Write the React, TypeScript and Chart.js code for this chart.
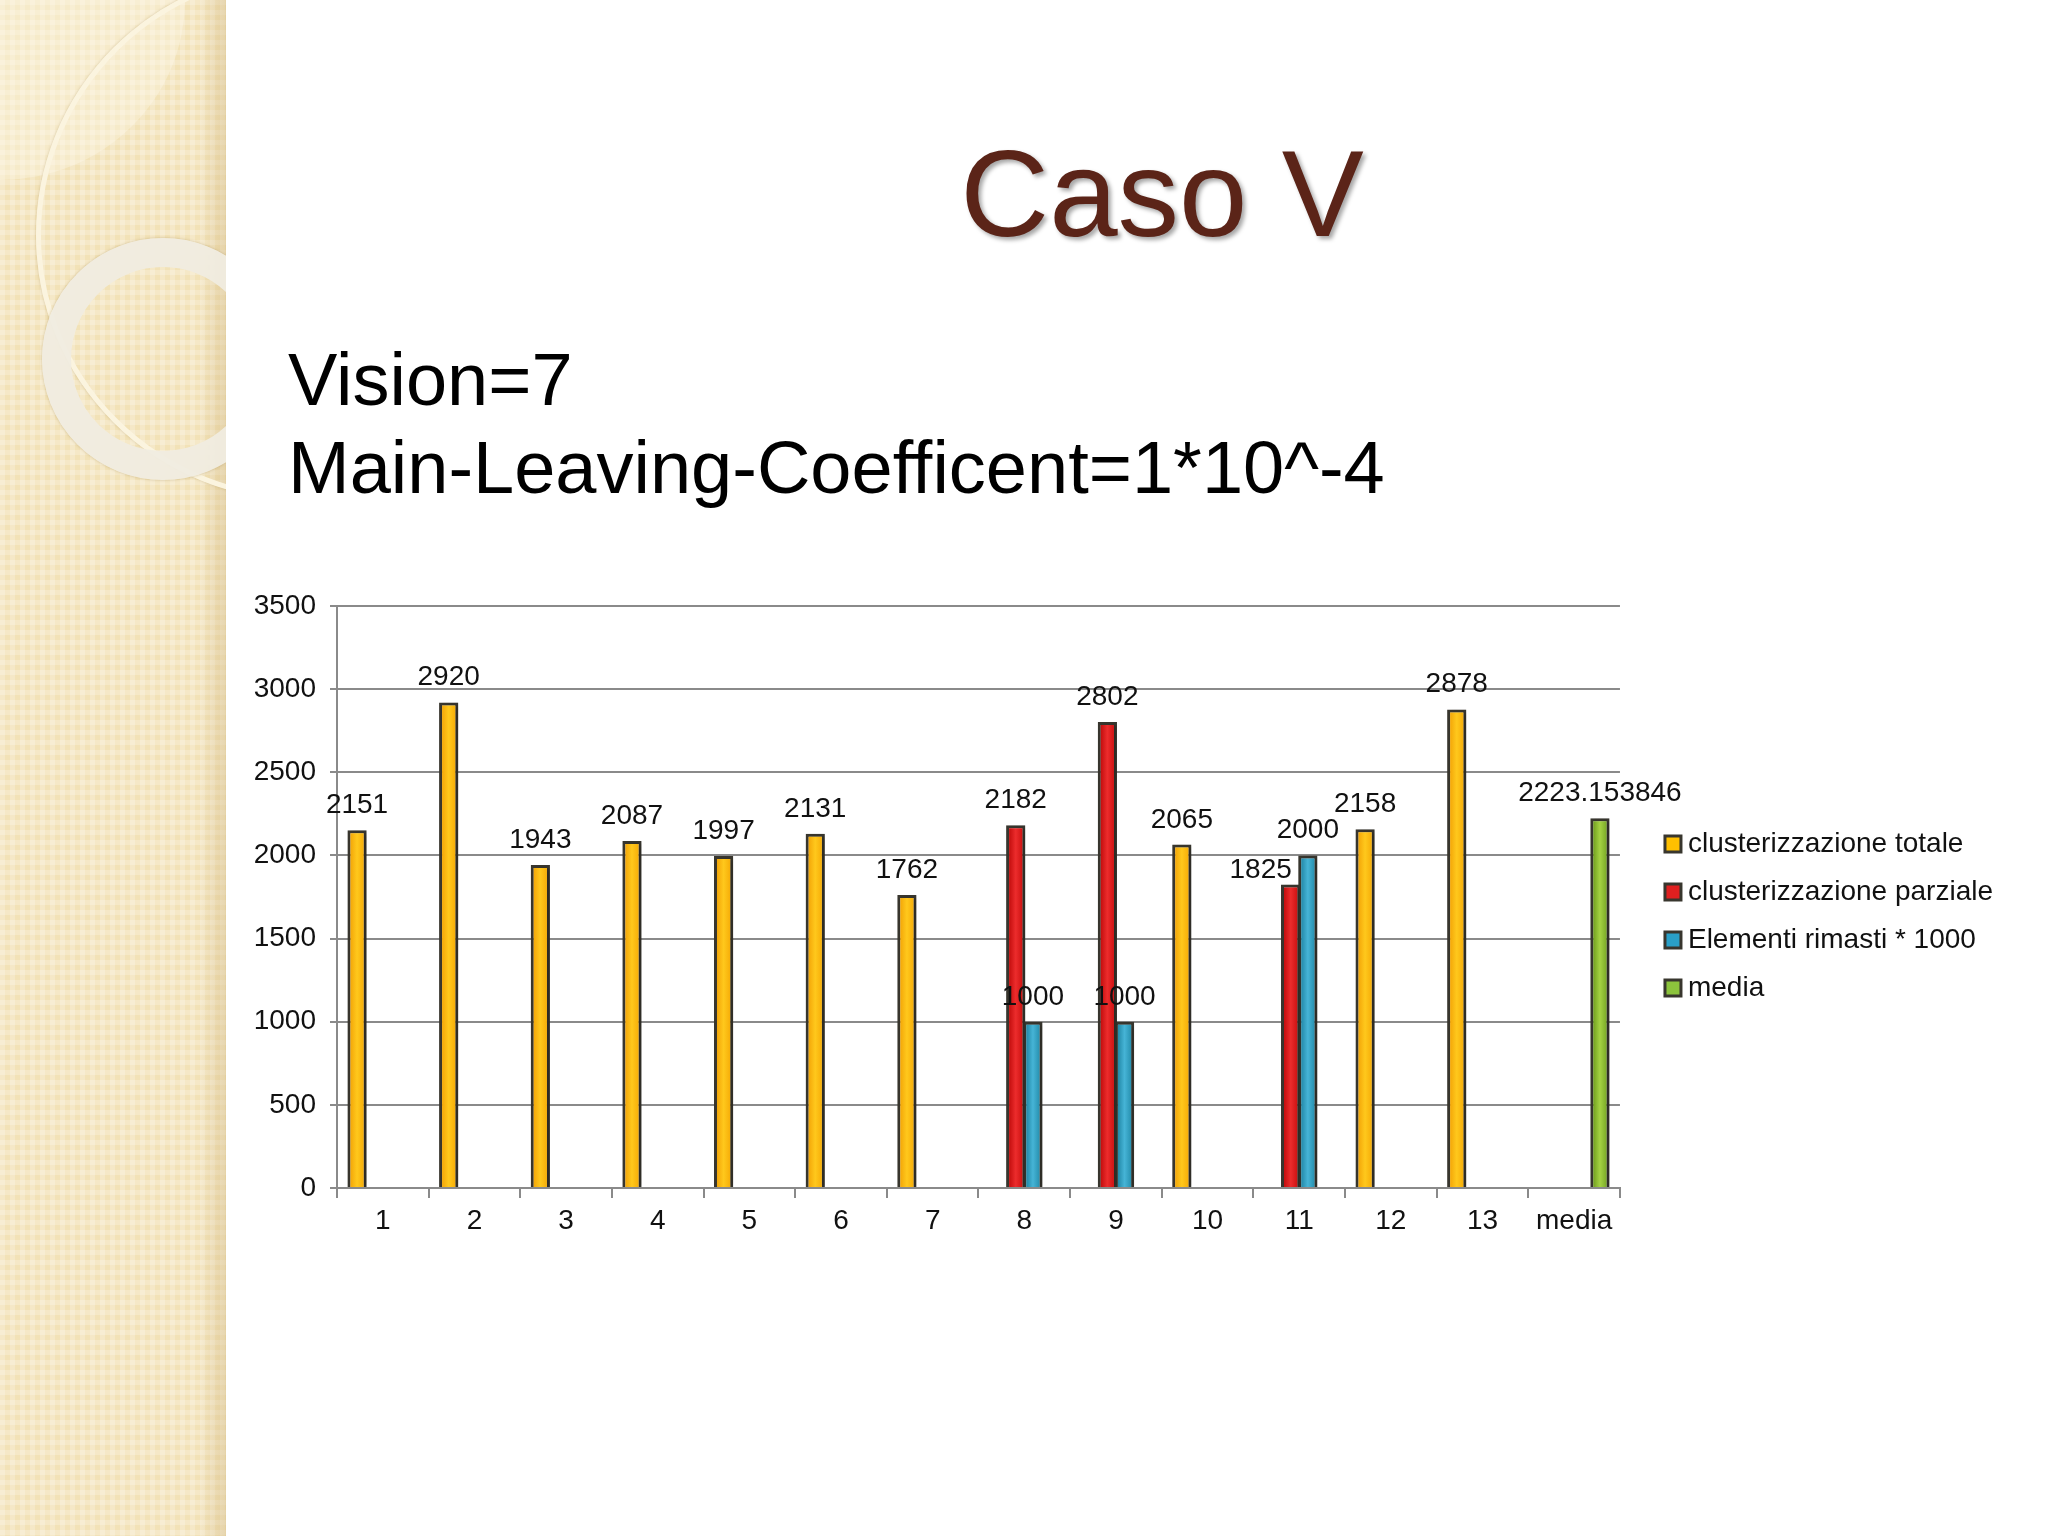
import { useEffect, useRef } from 'react'
import { Chart, registerables } from 'chart.js'

Chart.register(...registerables)

const FONT = '"Liberation Sans", Arial, sans-serif'

const categories = ['1', '2', '3', '4', '5', '6', '7', '8', '9', '10', '11', '12', '13', 'media']
const seriesNames = ['clusterizzazione totale', 'clusterizzazione parziale', 'Elementi rimasti * 1000', 'media']

const totale = [2151, 2920, 1943, 2087, 1997, 2131, 1762, null, null, 2065, null, 2158, 2878, null]
const parziale = [null, null, null, null, null, null, null, 2182, 2802, null, 1825, null, null, null]
const rimasti = [null, null, null, null, null, null, null, 1000, 1000, null, 2000, null, null, null]
const media = [null, null, null, null, null, null, null, null, null, null, null, null, null, 2223.153846]

const yMax = 3500
const yStep = 500

// solid colour for the legend, then left / middle / right shades for the bar gradient
const solid = ['#ffc000', '#e02020', '#2aa0c8', '#8cc43c']
const shades = [
  ['#ee9800', '#ffc81c', '#f3a300'],
  ['#b00000', '#ec2c2c', '#c20808'],
  ['#127593', '#46b4d6', '#1a82a0'],
  ['#5c8a10', '#a4d242', '#699a1c'],
]

// the label of one bar is moved aside so it does not run into its neighbour (dataset, index, dx, dy)
const labelNudge = [[1, 10, -30, 10]]

const barLook = {
  id: 'barLook',
  beforeDatasetsDraw(chart: any) {
    const ctx = chart.ctx
    chart.data.datasets.forEach((ds: any, i: number) => {
      const meta = chart.getDatasetMeta(i)
      meta.data.forEach((bar: any, j: number) => {
        if (ds.data[j] == null) return
        const { x, width } = bar.getProps(['x', 'width'], true)
        const g = ctx.createLinearGradient(x - width / 2, 0, x + width / 2, 0)
        g.addColorStop(0, shades[i][0])
        g.addColorStop(0.5, shades[i][1])
        g.addColorStop(1, shades[i][2])
        bar.options = { ...bar.options, backgroundColor: g }
      })
    })
  },
  beforeDatasetDraw(chart: any) {
    const ctx = chart.ctx
    ctx.shadowColor = 'rgba(0,0,0,0.25)'
    ctx.shadowBlur = 5
    ctx.shadowOffsetX = 3
    ctx.shadowOffsetY = 1
  },
  afterDatasetDraw(chart: any) {
    const ctx = chart.ctx
    ctx.shadowColor = 'rgba(0,0,0,0)'
    ctx.shadowBlur = 0
    ctx.shadowOffsetX = 0
    ctx.shadowOffsetY = 0
  },
  afterDatasetsDraw(chart: any) {
    const ctx = chart.ctx
    ctx.save()
    ctx.font = `28px ${FONT}`
    ctx.fillStyle = '#111'
    ctx.textAlign = 'center'
    ctx.textBaseline = 'alphabetic'
    chart.data.datasets.forEach((ds: any, i: number) => {
      const meta = chart.getDatasetMeta(i)
      meta.data.forEach((bar: any, j: number) => {
        const v = ds.data[j]
        if (v == null) return
        const n = labelNudge.find((k) => k[0] === i && k[1] === j)
        const dx = n ? n[2] : 0
        const dy = n ? n[3] : 0
        ctx.fillText(String(v), bar.x + dx, bar.y - 17 + dy)
      })
    })
    ctx.restore()
  },
}

function BarChart() {
  const chartRef = useRef<HTMLCanvasElement>(null)

  useEffect(() => {
    if (!chartRef.current) return
    const ctx = chartRef.current.getContext('2d')
    if (!ctx) return

    const series = [totale, parziale, rimasti, media]

    const chart = new Chart(ctx, {
      type: 'bar',
      data: {
        labels: categories,
        datasets: series.map((data, i) => ({
          label: seriesNames[i],
          data,
          yAxisID: 'y',
          backgroundColor: solid[i],
          borderColor: '#38362e',
          borderWidth: 3,
          categoryPercentage: 0.75,
          barPercentage: 1.12,
        })),
      },
      options: {
        responsive: false,
        animation: false,
        layout: { padding: { top: 48, bottom: 12, left: 0, right: 37 } },
        plugins: {
          tooltip: { enabled: false },
          legend: {
            position: 'right',
            fullSize: false,
            maxWidth: 440,
            // empty title only pushes the legend entries down a little
            title: { display: true, text: ' ', font: { size: 10 }, padding: 13 },
            labels: {
              color: '#111',
              font: { family: FONT, size: 28 },
              usePointStyle: true,
              pointStyle: 'rect',
              boxWidth: 2,
              boxHeight: 16,
              padding: 20,
            },
          },
        },
        scales: {
          x: {
            grid: {
              offset: true,
              drawOnChartArea: false,
              drawTicks: true,
              tickLength: 10,
              color: '#8a8a8a',
              lineWidth: 2,
            },
            border: { color: '#8a8a8a', width: 2 },
            ticks: {
              color: '#111',
              font: { family: FONT, size: 28 },
              padding: 6,
              maxRotation: 0,
              autoSkip: false,
            },
            afterFit: (s: any) => {
              s.height = 58
            },
          },
          y: {
            min: 0,
            max: yMax,
            ticks: {
              stepSize: yStep,
              color: '#111',
              font: { family: FONT, size: 28 },
              padding: 14,
              callback: (v: any) => String(v),
            },
            grid: {
              color: '#8a8a8a',
              lineWidth: 2,
              tickLength: 7,
            },
            border: { color: '#8a8a8a', width: 2 },
            afterFit: (s: any) => {
              s.width = 97
            },
          },
          gap: {
            type: 'linear',
            position: 'right',
            display: true,
            grid: { display: false },
            border: { display: false },
            ticks: { display: false },
            afterFit: (s: any) => {
              s.width = 32
            },
          },
        },
      },
      plugins: [barLook],
    } as any)

    return () => chart.destroy()
  }, [])

  return <canvas ref={chartRef} width={1800} height={700} style={{ width: 1800, height: 700, display: 'block' }} />
}

export default function App() {
  return (
    <div
      style={{
        position: 'absolute',
        left: 0,
        top: 0,
        width: 2048,
        height: 1536,
        overflow: 'hidden',
        background: '#fff',
        fontFamily: FONT,
      }}
    >
      {/* decorated strip on the left */}
      <div
        style={{
          position: 'absolute',
          left: 0,
          top: 0,
          width: 226,
          height: 1536,
          overflow: 'hidden',
          backgroundColor: '#f2e2b7',
          backgroundImage:
            'linear-gradient(90deg, rgba(255,255,255,0) 88%, rgba(200,170,110,0.35) 100%), linear-gradient(90deg, rgba(255,255,255,0.22) 50%, rgba(0,0,0,0) 50%), linear-gradient(rgba(255,255,255,0.22) 50%, rgba(0,0,0,0) 50%)',
          backgroundSize: '226px 100%, 10px 10px, 10px 10px',
        }}
      >
        <div
          style={{
            position: 'absolute',
            left: 0,
            top: 0,
            width: 185,
            height: 180,
            background: 'rgba(255,250,235,0.35)',
            borderBottomRightRadius: '100% 100%',
          }}
        />
        <div
          style={{
            position: 'absolute',
            left: 36,
            top: -30,
            width: 520,
            height: 520,
            borderRadius: '50%',
            border: '5px solid #fbf4df',
            boxShadow: '0 0 3px rgba(150,120,60,0.35)',
          }}
        />
        <div
          style={{
            position: 'absolute',
            left: 42,
            top: 238,
            width: 184,
            height: 184,
            borderRadius: '50%',
            border: '29px solid rgba(240,236,224,0.95)',
            boxShadow: '0 0 3px rgba(150,120,60,0.4)',
          }}
        />
      </div>

      <div
        style={{
          position: 'absolute',
          left: 662,
          width: 1000,
          top: 132,
          fontSize: 123,
          lineHeight: 1,
          textAlign: 'center',
          color: '#5b2418',
          textShadow: '3px 3px 4px rgba(0,0,0,0.35)',
        }}
      >
        Caso V
      </div>

      <div
        style={{
          position: 'absolute',
          left: 288,
          top: 336,
          fontSize: 74,
          lineHeight: '88px',
          color: '#000',
          whiteSpace: 'pre',
        }}
      >
        {'Vision=7\nMain-Leaving-Coefficent=1*10^-4'}
      </div>

      <div style={{ position: 'absolute', left: 240, top: 558 }}>
        <BarChart />
      </div>
    </div>
  )
}
